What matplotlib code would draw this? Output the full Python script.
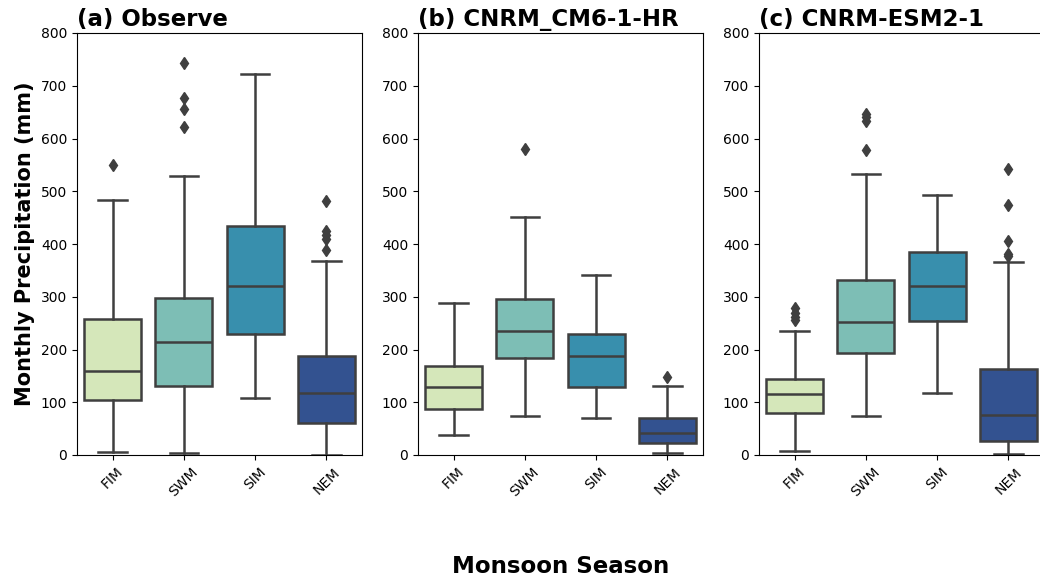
import numpy as np
import matplotlib
matplotlib.use("Agg")
import matplotlib.pyplot as plt
import seaborn as sns

seasons = ["FIM", "SWM", "SIM", "NEM"]
titles = ["(a) Observe", "(b) CNRM_CM6-1-HR", "(c) CNRM-ESM2-1"]

# box statistics, one list per panel, order FIM SWM SIM NEM
obs_whislo = [5, 4, 108, 0]
obs_q1 = [104, 130, 230, 60]
obs_med = [159, 214, 320, 118]
obs_q3 = [258, 297, 434, 188]
obs_whishi = [484, 529, 723, 367]
obs_fliers = [[549], [622, 655, 677, 744], [], [389, 410, 418, 424, 482]]

hr_whislo = [38, 73, 71, 3]
hr_q1 = [88, 183, 129, 23]
hr_med = [128, 235, 187, 41]
hr_q3 = [169, 296, 229, 70]
hr_whishi = [288, 452, 342, 130]
hr_fliers = [[], [581], [], [147]]

esm_whislo = [8, 74, 118, 2]
esm_q1 = [79, 193, 254, 27]
esm_med = [116, 252, 320, 75]
esm_q3 = [145, 332, 384, 163]
esm_whishi = [236, 532, 493, 366]
esm_fliers = [[255, 262, 270, 278], [578, 634, 641, 646], [], [378, 381, 406, 474, 542]]

panels = [
    (obs_whislo, obs_q1, obs_med, obs_q3, obs_whishi, obs_fliers),
    (hr_whislo, hr_q1, hr_med, hr_q3, hr_whishi, hr_fliers),
    (esm_whislo, esm_q1, esm_med, esm_q3, esm_whishi, esm_fliers),
]

pal = [sns.desaturate(c, 0.75) for c in sns.color_palette("YlGnBu", 4)]
line_col = "#3f3f3f"

fig = plt.figure(figsize=(10.4, 5.83), dpi=100)
lefts = [77 / 1040, 418 / 1040, 759 / 1040]
w = 285 / 1040
bottom = 128 / 583
h = 422 / 583

for i, (lo, q1, med, q3, hi, fl) in enumerate(panels):
    ax = fig.add_axes([lefts[i], bottom, w, h])
    stats = []
    for j in range(4):
        stats.append(dict(whislo=lo[j], q1=q1[j], med=med[j], q3=q3[j],
                          whishi=hi[j], fliers=fl[j]))
    bp = ax.bxp(stats, positions=range(4), widths=0.8, patch_artist=True,
                capwidths=0.4,
                boxprops=dict(edgecolor=line_col, linewidth=1.8),
                medianprops=dict(color=line_col, linewidth=1.8),
                whiskerprops=dict(color=line_col, linewidth=1.8),
                capprops=dict(color=line_col, linewidth=1.8),
                flierprops=dict(marker="d", markerfacecolor=line_col,
                                markeredgecolor=line_col, markersize=6))
    for patch, c in zip(bp["boxes"], pal):
        patch.set_facecolor(c)
    ax.set_xlim(-0.5, 3.5)
    ax.set_ylim(0, 800)
    ax.set_yticks(np.arange(0, 801, 100))
    ax.set_xticks(range(4))
    ax.set_xticklabels(seasons, rotation=45)
    ax.tick_params(labelsize=10)
    ax.set_title(titles[i], loc="left", fontsize=16.5, fontweight="bold", pad=5)
    if i == 0:
        ax.set_ylabel("Monthly Precipitation (mm)", fontsize=15, fontweight="bold")
    if i == 1:
        ax.set_xlabel("Monsoon Season", fontsize=16.5, fontweight="bold", labelpad=40)

plt.savefig("out.png", dpi=100)
